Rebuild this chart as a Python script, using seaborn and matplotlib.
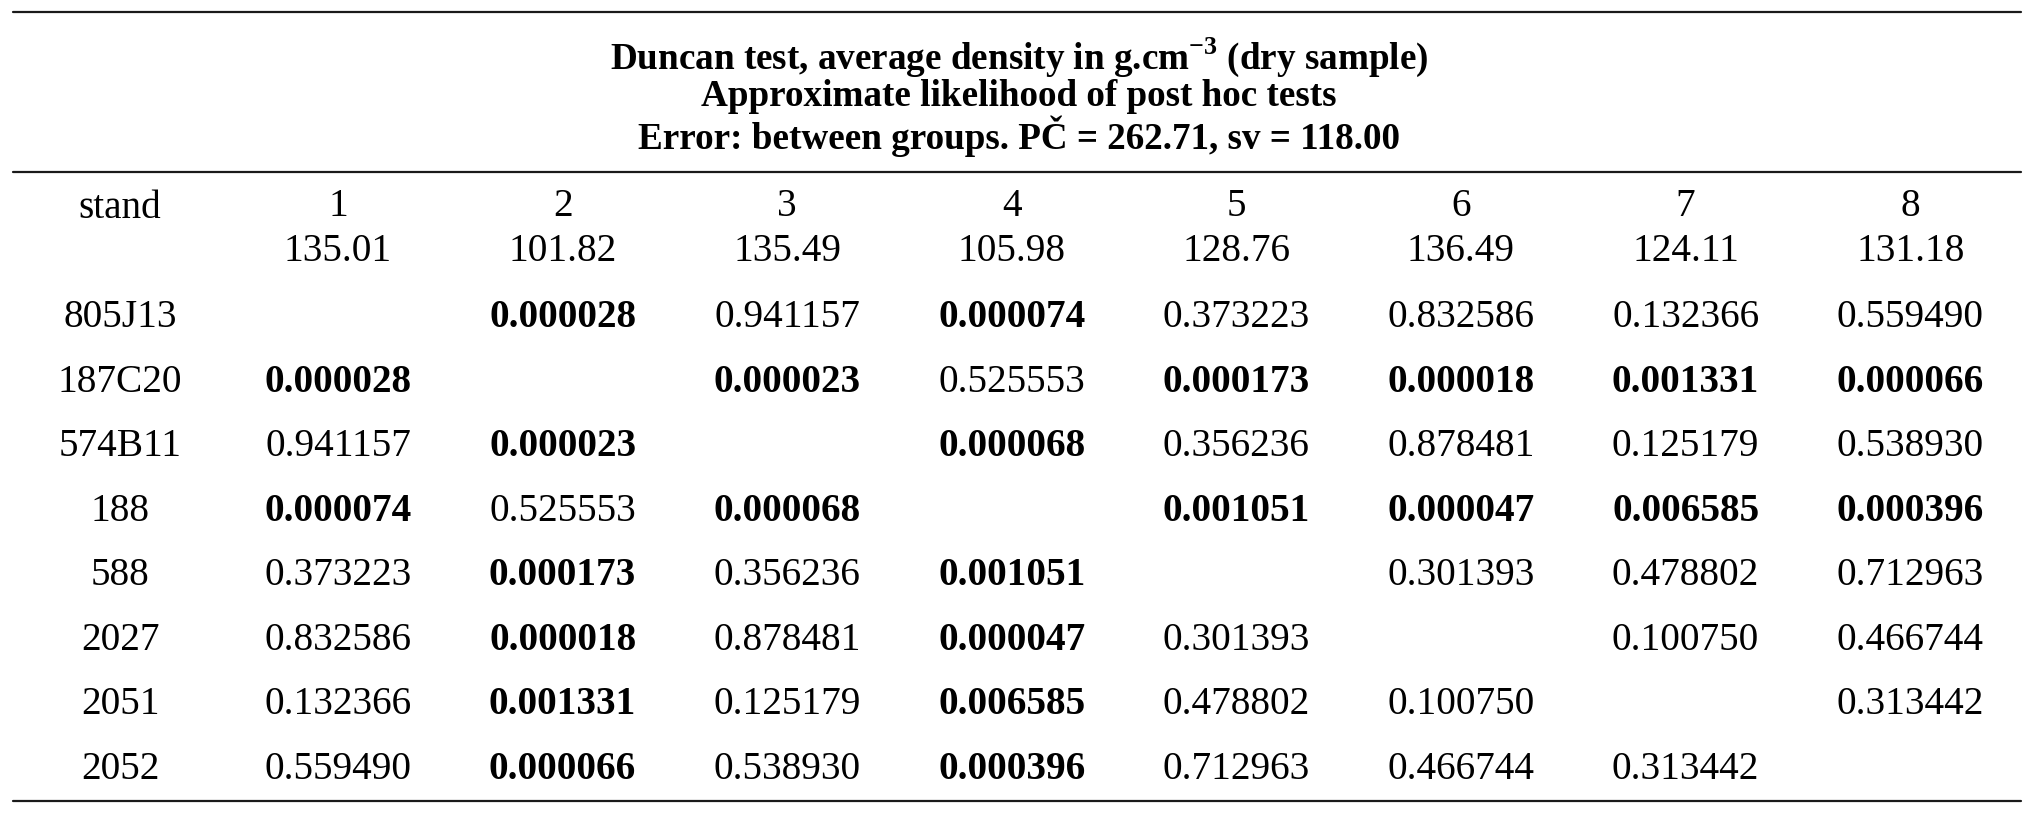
import numpy as np
import pandas as pd
import matplotlib
matplotlib.use("Agg")
import matplotlib.pyplot as plt
import seaborn as sns
from matplotlib.colors import ListedColormap
from matplotlib.lines import Line2D

stands = ["805J13", "187C20", "574B11", "188", "588", "2027", "2051", "2052"]
groups = [1, 2, 3, 4, 5, 6, 7, 8]
means = [135.01, 101.82, 135.49, 105.98, 128.76, 136.49, 124.11, 131.18]

nan = np.nan
p_805J13 = [nan, 0.000028, 0.941157, 0.000074, 0.373223, 0.832586, 0.132366, 0.559490]
p_187C20 = [0.000028, nan, 0.000023, 0.525553, 0.000173, 0.000018, 0.001331, 0.000066]
p_574B11 = [0.941157, 0.000023, nan, 0.000068, 0.356236, 0.878481, 0.125179, 0.538930]
p_188 = [0.000074, 0.525553, 0.000068, nan, 0.001051, 0.000047, 0.006585, 0.000396]
p_588 = [0.373223, 0.000173, 0.356236, 0.001051, nan, 0.301393, 0.478802, 0.712963]
p_2027 = [0.832586, 0.000018, 0.878481, 0.000047, 0.301393, nan, 0.100750, 0.466744]
p_2051 = [0.132366, 0.001331, 0.125179, 0.006585, 0.478802, 0.100750, nan, 0.313442]
p_2052 = [0.559490, 0.000066, 0.538930, 0.000396, 0.712963, 0.466744, 0.313442, nan]

title_lines = [
    r"Duncan test, average density in g.cm$^{\mathbf{-3}}$ (dry sample)",
    "Approximate likelihood of post hoc tests",
    "Error: between groups. PČ = 262.71, sv = 118.00",
]

# ---- style ----
sns.set_style("white")
plt.rcParams["font.family"] = ["Liberation Serif", "DejaVu Serif"]
plt.rcParams["mathtext.fontset"] = "custom"
plt.rcParams["mathtext.rm"] = "Liberation Serif"
plt.rcParams["mathtext.bf"] = "Liberation Serif:bold"
for key in ("text.color", "axes.labelcolor", "xtick.color", "ytick.color"):
    plt.rcParams[key] = "black"

FS = 28.3
W, H = 2038, 821

pvals = pd.DataFrame(
    [p_805J13, p_187C20, p_574B11, p_188, p_588, p_2027, p_2051, p_2052],
    index=stands, columns=groups,
)
mask = pvals.isna()

fig = plt.figure(figsize=(W / 100, H / 100), dpi=100)
# table body: cells 224.6 px wide, 64.5 px tall
ax = fig.add_axes([225.7 / W, 1 - 801.5 / H, 1796.8 / W, 516 / H])

sns.heatmap(
    pvals, mask=mask, cmap=ListedColormap(["white"]), cbar=False,
    annot=True, fmt=".6f",
    annot_kws={"fontsize": FS, "color": "black"},
    xticklabels=[f"{g}\n{m:.2f}" for g, m in zip(groups, means)],
    yticklabels=stands, ax=ax,
)

# significant differences in bold
for t in ax.texts:
    if float(t.get_text()) < 0.05:
        t.set_fontweight("bold")

ax.xaxis.tick_top()
ax.tick_params(axis="both", length=0)
ax.tick_params(axis="x", pad=11)
ax.tick_params(axis="y", pad=76)
for lab in ax.get_xticklabels():
    lab.set_fontsize(FS)
    lab.set_linespacing(1.3)
    lab.set_rotation(0)
for lab in ax.get_yticklabels():
    lab.set_fontsize(FS)
    lab.set_rotation(0)
    lab.set_ha("center")
    lab.set_va("center")
for s in ax.spines.values():
    s.set_visible(False)

fig.text(120 / W, 1 - 209 / H, "stand", ha="center", va="center", fontsize=FS)

# title block
for i, line in enumerate(title_lines):
    fig.text(1019 / W, 1 - (57 + i * 39.5) / H, line, ha="center", va="center",
             fontsize=26.7, fontweight="bold")

# rules of the table
for y in (12.5, 172, 801):
    fig.add_artist(Line2D([13 / W, 2021 / W], [1 - y / H, 1 - y / H],
                          color="#1a1a1a", lw=1.6))

fig.savefig("out.png", dpi=100)
